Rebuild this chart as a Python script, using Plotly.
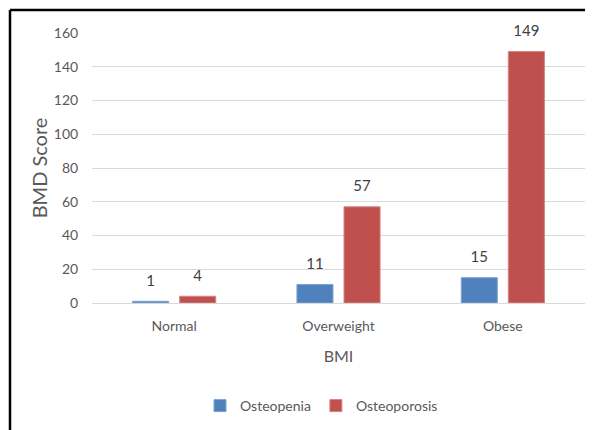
import plotly.graph_objects as go

categories = ["Normal", "Overweight", "Obese"]
osteopenia = [1, 11, 15]
osteoporosis = [4, 57, 149]
y_ticks = [0, 20, 40, 60, 80, 100, 120, 140, 160]

FONT = "Lato, 'Open Sans', sans-serif"
GREY = "#595959"
LABEL_TPL = "<span style='font-size:15px'>%{y}</span><br> "

fig = go.Figure()
fig.add_trace(go.Bar(
    name="Osteopenia", x=categories, y=osteopenia,
    marker=dict(color="#4f81bd", line=dict(color="#7da2d0", width=1)),
    texttemplate=LABEL_TPL, textposition="outside", cliponaxis=False,
    textfont=dict(family=FONT, size=8, color="#404040"),
))
fig.add_trace(go.Bar(
    name="Osteoporosis", x=categories, y=osteoporosis,
    marker=dict(color="#c0504d", line=dict(color="#d48482", width=1)),
    texttemplate=LABEL_TPL, textposition="outside", cliponaxis=False,
    textfont=dict(family=FONT, size=8, color="#404040"),
))

# page body has an 8px margin; work in page pixel coordinates
OFF = 8
W, H = 593 - OFF, 430 - OFF
PL, PR, PT, PB = 92, 585, 33, 303   # plot area in page pixels
L = PL - OFF
T = PT - OFF
R = W - (PR - OFF)
B = H - (PB - OFF)
pw = PR - PL
ph = PB - PT

def px(x):
    return (x - PL) / pw

def py(y):
    return (PB - y) / ph

fig.update_layout(
    width=W, height=H,
    margin=dict(l=L, r=R, t=T, b=B),
    paper_bgcolor="white", plot_bgcolor="white",
    barmode="group", bargap=0.427, bargroupgap=0.234,
    font=dict(family=FONT, size=14, color=GREY),
    showlegend=True,
    legend=dict(orientation="h", x=px(200), xanchor="left", y=py(406), yanchor="middle",
                font=dict(family=FONT, size=14, color=GREY), itemwidth=30,
                tracegroupgap=0),
    xaxis=dict(
        title=dict(text="BMI", font=dict(family=FONT, size=16, color=GREY), standoff=18),
        showgrid=False, showline=False, zeroline=False,
        ticks="outside", ticklen=10, tickcolor="rgba(0,0,0,0)",
        tickfont=dict(family=FONT, size=14, color=GREY),
    ),
    yaxis=dict(
        title=dict(text="BMD Score", font=dict(family=FONT, size=20, color=GREY), standoff=0),
        range=[0, 160], tickvals=y_ticks,
        showgrid=True, gridcolor="#d9d9d9", gridwidth=1,
        zeroline=True, zerolinecolor="#d9d9d9", zerolinewidth=1,
        showline=False,
        ticks="outside", ticklen=10, tickcolor="rgba(0,0,0,0)",
        tickfont=dict(family=FONT, size=14, color=GREY),
    ),
    shapes=[
        dict(type="line", xref="paper", yref="paper",
             x0=px(10), x1=px(10), y0=py(10), y1=py(440),
             line=dict(color="black", width=2.5)),
        dict(type="line", xref="paper", yref="paper",
             x0=px(10), x1=px(600), y0=py(10), y1=py(10),
             line=dict(color="black", width=2.5)),
    ],
)

fig.write_html("out.html")
